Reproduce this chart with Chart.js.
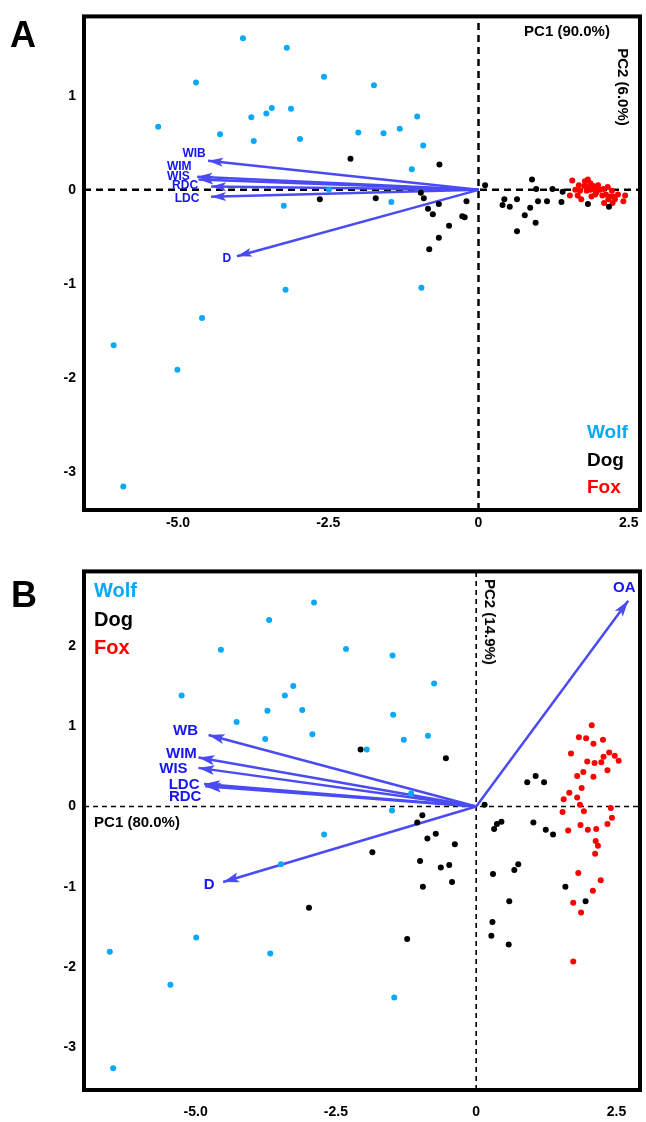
<!DOCTYPE html>
<html><head><meta charset="utf-8">
<script src="https://cdn.jsdelivr.net/npm/chart.js@4/dist/chart.umd.min.js"></script>
<style>
html,body{margin:0;padding:0;background:#fff;}
#wrap{position:relative;width:646px;height:1122px;overflow:hidden;font-family:"Liberation Sans",Arial,Helvetica,sans-serif;}
.box{position:absolute;left:0;}
.t{position:absolute;white-space:nowrap;font-weight:bold;line-height:1.2;}
</style></head><body>
<div id="wrap">
<div class="box" style="top:0;width:646px;height:540px;"><canvas id="cA" width="646" height="540"></canvas></div>
<div class="box" style="top:555px;width:646px;height:567px;"><canvas id="cB" width="646" height="567"></canvas></div>
<div class="t" style="left:10px;top:35px;font-size:36px;transform:translateY(-50%)">A</div>
<div class="t" style="left:11px;top:595px;font-size:36px;transform:translateY(-50%)">B</div>
<div class="t" id="legA" style="left:587px;top:418px;font-size:19px;line-height:27.5px;"></div>
<div class="t" id="legB" style="left:94px;top:576px;font-size:20px;line-height:28.5px;"></div>
<div class="t" id="pc1A" style="left:567px;top:31px;font-size:15px;transform:translate(-50%,-50%)"></div>
<div class="t" id="pc2A" style="left:623px;top:87px;font-size:15px;transform:translate(-50%,-50%) rotate(90deg)"></div>
<div class="t" id="pc2B" style="left:490px;top:622px;font-size:15px;transform:translate(-50%,-50%) rotate(90deg)"></div>
<div class="t" id="pc1B" style="left:137px;top:822px;font-size:15px;transform:translate(-50%,-50%)"></div>
</div>
<script>
// ---------------- DATA ----------------
const groups = ['Wolf','Dog','Fox'];
const titlesA = ['PC1 (90.0%)','PC2 (6.0%)'];
const titlesB = ['PC1 (80.0%)','PC2 (14.9%)'];

const xTicksA = [-5, -2.5, 0, 2.5];
const xTickLabelsA = ['-5.0','-2.5','0','2.5'];
const yTicksA = [1, 0, -1, -2, -3];
const xTicksB = [-5, -2.5, 0, 2.5];
const xTickLabelsB = ['-5.0','-2.5','0','2.5'];
const yTicksB = [2, 1, 0, -1, -2, -3];

const rangeA = {xmin:-6.564, xmax:2.687, ymin:-3.40, ymax:1.842};
const rangeB = {xmin:-6.99, xmax:2.92, ymin:-3.53, ymax:2.926};

const wolfA = [[-3.92,1.61],[-3.19,1.51],[-2.57,1.20],[-4.70,1.14],[-1.74,1.11],[-3.44,0.87],[-3.12,0.86],[-3.53,0.81],[-3.78,0.77],[-1.02,0.78],[-5.33,0.67],[-1.31,0.65],[-2.00,0.61],[-1.58,0.60],[-4.30,0.59],[-3.74,0.52],[-2.97,0.54],[-0.92,0.47],[-1.11,0.22],[-2.49,0.00],[-1.45,-0.13],[-3.24,-0.17],[-3.21,-1.06],[-0.95,-1.04],[-4.60,-1.36],[-6.07,-1.65],[-5.01,-1.91],[-5.91,-3.15]];
const dogA = [[-2.13,0.33],[-0.65,0.27],[0.11,0.05],[0.89,0.11],[-2.64,-0.10],[-1.71,-0.09],[-0.96,-0.03],[-0.91,-0.09],[-0.66,-0.15],[-0.84,-0.20],[-0.76,-0.26],[-0.20,-0.12],[-0.27,-0.28],[-0.23,-0.29],[-0.49,-0.38],[-0.66,-0.51],[-0.82,-0.63],[0.43,-0.10],[0.40,-0.16],[0.52,-0.18],[0.64,-0.10],[0.96,0.01],[0.99,-0.12],[0.86,-0.19],[0.77,-0.27],[0.95,-0.35],[0.64,-0.44],[1.14,-0.12],[1.23,0.01],[1.38,-0.13],[1.40,-0.02],[1.82,-0.15],[2.17,-0.18]];
const foxA = [[1.56,0.10],[1.67,0.05],[1.61,0.00],[1.52,-0.06],[1.65,-0.06],[1.71,-0.10],[1.77,0.09],[1.82,0.11],[1.86,0.07],[1.76,0.04],[1.83,0.03],[1.91,0.04],[1.94,0.00],[1.80,-0.01],[1.88,-0.07],[1.96,-0.03],[2.08,0.01],[2.15,0.03],[2.12,-0.05],[2.06,-0.06],[2.22,-0.01],[2.19,-0.07],[2.24,-0.07],[2.16,-0.10],[2.09,-0.14],[2.27,-0.10],[2.32,-0.05],[2.44,-0.06],[2.41,-0.12],[2.23,-0.14],[2.02,0.00],[1.86,0.00],[1.94,-0.05],[1.99,0.05],[1.69,-0.01]];
const loadNamesA = ['WIB','WIM','WIS','RDC','LDC','D'];
const loadXA = [-4.50,-4.68,-4.66,-4.45,-4.45,-4.02];
const loadYA = [0.31,0.14,0.11,0.035,-0.074,-0.705];

const wolfB = [[-2.89,2.54],[-3.69,2.32],[-4.55,1.95],[-2.32,1.96],[-1.49,1.88],[-0.75,1.53],[-3.26,1.50],[-3.41,1.38],[-5.25,1.38],[-3.72,1.19],[-3.10,1.20],[-1.48,1.14],[-4.27,1.05],[-2.92,0.90],[-3.76,0.84],[-1.29,0.83],[-0.86,0.88],[-1.95,0.71],[-1.16,0.16],[-1.50,-0.05],[-2.71,-0.35],[-3.48,-0.72],[-4.99,-1.63],[-6.53,-1.81],[-3.67,-1.83],[-5.45,-2.22],[-1.46,-2.38],[-6.47,-3.26]];
const dogB = [[-2.06,0.71],[-0.54,0.60],[0.91,0.30],[1.06,0.38],[1.21,0.30],[0.15,0.02],[-0.96,-0.11],[-1.05,-0.20],[-0.72,-0.34],[-0.87,-0.40],[-0.38,-0.47],[-1.85,-0.57],[0.45,-0.19],[0.37,-0.22],[0.32,-0.28],[1.02,-0.20],[1.24,-0.29],[1.37,-0.35],[-1.00,-0.68],[-0.48,-0.73],[-0.63,-0.76],[-0.43,-0.94],[-0.95,-1.00],[-2.98,-1.26],[-1.23,-1.65],[0.75,-0.72],[0.68,-0.79],[0.30,-0.84],[1.59,-1.00],[1.95,-1.18],[0.59,-1.18],[0.29,-1.44],[0.27,-1.61],[0.58,-1.72]];
const foxB = [[2.06,1.01],[1.83,0.86],[1.96,0.85],[2.09,0.78],[2.26,0.83],[1.69,0.66],[1.98,0.56],[2.11,0.54],[2.23,0.55],[2.27,0.62],[2.37,0.67],[2.47,0.63],[2.54,0.57],[2.34,0.45],[1.80,0.38],[1.91,0.43],[2.09,0.37],[1.88,0.23],[1.66,0.17],[1.56,0.09],[1.80,0.11],[1.85,0.02],[1.92,-0.06],[1.54,-0.07],[2.40,-0.02],[2.42,-0.14],[2.34,-0.22],[1.86,-0.23],[1.64,-0.30],[1.99,-0.29],[2.14,-0.28],[2.13,-0.43],[2.17,-0.49],[2.12,-0.59],[1.82,-0.83],[2.22,-0.92],[2.08,-1.05],[1.73,-1.20],[1.87,-1.32],[1.73,-1.93]];
const loadNamesB = ['WB','WIM','WIS','LDC','RDC','D','OA'];
const loadXB = [-4.77,-4.95,-4.95,-4.85,-4.83,-4.51,2.71];
const loadYB = [0.89,0.61,0.48,0.28,0.25,-0.94,2.56];

// ---------------- STYLE ----------------
const FONT = '"Liberation Sans", Arial, Helvetica, sans-serif';
const COLORS = {Wolf:'#0aa8f8', Dog:'#000000', Fox:'#ff0000'};
const ARROW_COLOR = '#4b4bf5';
const LABEL_COLOR = '#1616f0';
const labelOffA = [[-14,-7],[-18,-10],[-20,-3],[-26,-1],[-24,2],[-10,2]];
const labelOffB = [[-23,-4],[-17,-4],[-25,1],[-20,1],[-20,11],[-14,3],[-4,-13]];

// ---------------- TEXT ----------------
function fillLegend(id){
  const el = document.getElementById(id);
  el.innerHTML = groups.map(g=>'<div style="color:'+COLORS[g]+'">'+g+'</div>').join('');
}
fillLegend('legA'); fillLegend('legB');
document.getElementById('pc1A').textContent = titlesA[0];
document.getElementById('pc2A').textContent = titlesA[1];
document.getElementById('pc1B').textContent = titlesB[0];
document.getElementById('pc2B').textContent = titlesB[1];

// ---------------- PLUGINS ----------------
const framePlugin = {
  id:'frame',
  afterDraw(chart){
    const a = chart.chartArea, ctx = chart.ctx;
    ctx.save();
    ctx.strokeStyle = '#000'; ctx.lineWidth = 4;
    ctx.strokeRect(a.left, a.top, a.right-a.left, a.bottom-a.top);
    ctx.restore();
  }
};
const arrowPlugin = {
  id:'arrowheads',
  afterDatasetDraw(chart, args){
    const ds = chart.data.datasets[args.index];
    if(!ds.arrow) return;
    const pts = args.meta.data;
    const p0 = pts[0], p1 = pts[1];
    const ctx = chart.ctx;
    const ang = Math.atan2(p1.y-p0.y, p1.x-p0.x);
    const L = ds.arrow.len, W = ds.arrow.wid;
    const c = Math.cos(ang), s = Math.sin(ang);
    ctx.save();
    ctx.fillStyle = ds.borderColor;
    ctx.beginPath();
    ctx.moveTo(p1.x, p1.y);
    ctx.lineTo(p1.x - L*c + W/2*s, p1.y - L*s - W/2*c);
    ctx.lineTo(p1.x - 0.78*L*c, p1.y - 0.78*L*s);
    ctx.lineTo(p1.x - L*c - W/2*s, p1.y - L*s + W/2*c);
    ctx.closePath(); ctx.fill();
    ctx.font = 'bold ' + ds.arrow.fontSize + 'px ' + FONT;
    ctx.fillStyle = LABEL_COLOR;
    ctx.textAlign = 'center'; ctx.textBaseline = 'middle';
    ctx.fillText(ds.label, p1.x + ds.arrow.dx, p1.y + ds.arrow.dy);
    ctx.restore();
  }
};

// ---------------- BUILD ----------------
function buildChart(canvasId, cfg){
  const r = cfg.range;
  const datasets = [];
  // dashed zero lines
  const dash = {type:'scatter', showLine:true, pointRadius:0, borderColor:'#000', borderWidth:cfg.dashWidth, borderDash:cfg.dashPattern, order:3, fill:false};
  datasets.push(Object.assign({label:'h0', data:[{x:r.xmin,y:0},{x:r.xmax,y:0}]}, dash));
  datasets.push(Object.assign({label:'v0', data:[{x:0,y:r.ymin},{x:0,y:r.ymax}]}, dash));
  // loading arrows
  cfg.names.forEach((n,i)=>{
    datasets.push({type:'scatter', label:n, showLine:true, pointRadius:0, borderColor:ARROW_COLOR, borderWidth:cfg.arrowWidth, borderCapStyle:'butt', order:2,
      data:[{x:0,y:0},{x:cfg.lx[i],y:cfg.ly[i]}],
      arrow:{len:cfg.headLen, wid:cfg.headWid, fontSize:cfg.labelSize, dx:cfg.offs[i][0], dy:cfg.offs[i][1]}});
  });
  // points
  [['Wolf',cfg.wolf],['Dog',cfg.dog],['Fox',cfg.fox]].forEach(([g,arr])=>{
    datasets.push({type:'scatter', label:g, order:1, data:arr.map(p=>({x:p[0],y:p[1]})),
      pointRadius:cfg.pr, pointBorderWidth:0, backgroundColor:COLORS[g], borderColor:COLORS[g], pointBackgroundColor:COLORS[g]});
  });
  return new Chart(document.getElementById(canvasId), {
    type:'scatter',
    data:{datasets},
    options:{
      responsive:false, animation:false, events:[],
      layout:{padding:{left:0,right:6,top:12,bottom:0}},
      plugins:{legend:{display:false}, tooltip:{enabled:false}},
      scales:{
        x:{type:'linear', min:r.xmin, max:r.xmax,
          afterBuildTicks:(s)=>{ s.ticks = cfg.xt.map(v=>({value:v})); },
          afterFit:(s)=>{ s.height = cfg.xAxisH; },
          grid:{display:false, drawTicks:false}, border:{display:false},
          ticks:{autoSkip:false, maxRotation:0, padding:cfg.xPad, color:'#000', font:{family:FONT, size:14, weight:'bold'},
            callback:(v)=>{ const i = cfg.xt.indexOf(v); return i>=0 ? cfg.xl[i] : ''; }}},
        y:{type:'linear', min:r.ymin, max:r.ymax,
          afterBuildTicks:(s)=>{ s.ticks = cfg.yt.map(v=>({value:v})); },
          afterFit:(s)=>{ s.width = 84; },
          grid:{display:false, drawTicks:false}, border:{display:false},
          ticks:{autoSkip:false, padding:8, color:'#000', font:{family:FONT, size:14, weight:'bold'},
            callback:(v)=>String(v)}}
      }
    },
    plugins:[arrowPlugin, framePlugin]
  });
}

buildChart('cA', {range:rangeA, xt:xTicksA, xl:xTickLabelsA, yt:yTicksA, xAxisH:30, xPad:5,
  wolf:wolfA, dog:dogA, fox:foxA, names:loadNamesA, lx:loadXA, ly:loadYA, offs:labelOffA,
  dashWidth:2.5, dashPattern:[7,5], arrowWidth:2.5, headLen:15, headWid:9, labelSize:12, pr:3});
buildChart('cB', {range:rangeB, xt:xTicksB, xl:xTickLabelsB, yt:yTicksB, xAxisH:32, xPad:14,
  wolf:wolfB, dog:dogB, fox:foxB, names:loadNamesB, lx:loadXB, ly:loadYB, offs:labelOffB,
  dashWidth:1.6, dashPattern:[5,4], arrowWidth:2.5, headLen:16, headWid:10, labelSize:15, pr:3});
</script>
</body></html>
